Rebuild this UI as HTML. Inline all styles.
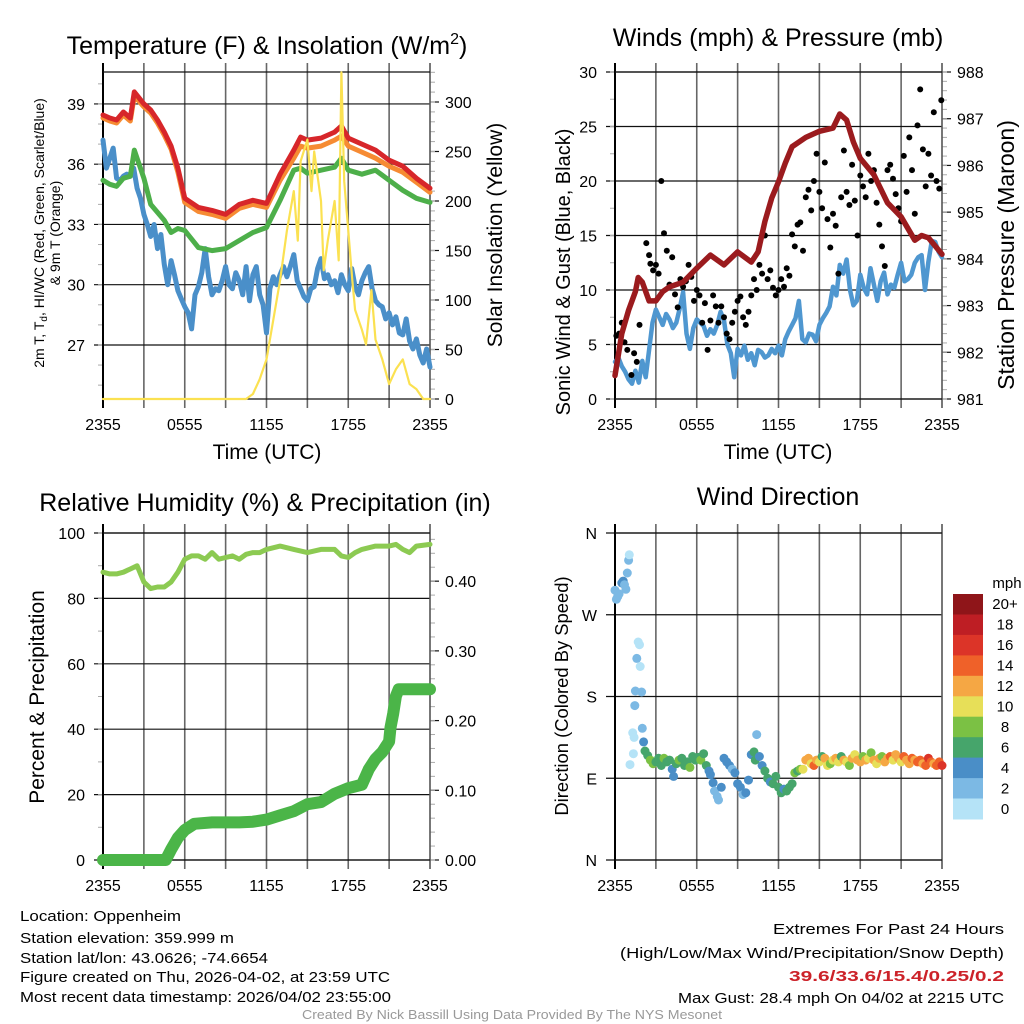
<!DOCTYPE html>
<html><head><meta charset="utf-8"><style>
html,body{margin:0;padding:0;background:#fff}
svg{display:block;font-family:"Liberation Sans",sans-serif}
</style></head><body>
<svg id="chart" width="1024" height="1024" viewBox="0 0 1024 1024" xmlns="http://www.w3.org/2000/svg">
<rect width="1024" height="1024" fill="#fff"/>
<g id="layer"></g>
<g font-size="25" text-anchor="middle" fill="#000">
<text x="267" y="54">Temperature (F) &amp; Insolation (W/m<tspan font-size="16" dy="-10">2</tspan><tspan dy="10">)</tspan></text>
<text x="778" y="46">Winds (mph) &amp; Pressure (mb)</text>
<text x="265" y="511">Relative Humidity (%) &amp; Precipitation (in)</text>
<text x="778" y="505">Wind Direction</text>
</g>
<g fill="#000" text-anchor="middle">
<text x="267" y="459" font-size="21">Time (UTC)</text>
<text x="778" y="459" font-size="21">Time (UTC)</text>
<text font-size="14" transform="translate(44,233) rotate(-90)">2m T, T<tspan font-size="10" dy="3">d</tspan><tspan dy="-3">, HI/WC (Red, Green, Scarlet/Blue)</tspan></text>
<text font-size="14" transform="translate(60,233) rotate(-90)">&amp; 9m T (Orange)</text>
<text font-size="21" transform="translate(502,235) rotate(-90)">Solar Insolation (Yellow)</text>
<text font-size="20" transform="translate(570,272) rotate(-90)">Sonic Wind &amp; Gust (Blue, Black)</text>
<text font-size="23" transform="translate(1014,255) rotate(-90)">Station Pressure (Maroon)</text>
<text font-size="21" transform="translate(44,697) rotate(-90)">Percent &amp; Precipitation</text>
<text font-size="18.4" transform="translate(568,696) rotate(-90)">Direction (Colored By Speed)</text>
</g>
<g font-size="15" fill="#000">
<text x="20" y="921" textLength="161" lengthAdjust="spacingAndGlyphs">Location: Oppenheim</text>
<text x="20" y="943" textLength="214" lengthAdjust="spacingAndGlyphs">Station elevation: 359.999 m</text>
<text x="20" y="963" textLength="248" lengthAdjust="spacingAndGlyphs">Station lat/lon: 43.0626; -74.6654</text>
<text x="20" y="982" textLength="370" lengthAdjust="spacingAndGlyphs">Figure created on Thu, 2026-04-02, at 23:59 UTC</text>
<text x="20" y="1002" textLength="371" lengthAdjust="spacingAndGlyphs">Most recent data timestamp: 2026/04/02 23:55:00</text>
</g>
<g font-size="15" fill="#000">
<text x="773" y="934" textLength="231" lengthAdjust="spacingAndGlyphs">Extremes For Past 24 Hours</text>
<text x="620" y="958" textLength="384" lengthAdjust="spacingAndGlyphs">(High/Low/Max Wind/Precipitation/Snow Depth)</text>
<text x="789" y="981" fill="#cc2229" font-weight="bold" textLength="215" lengthAdjust="spacingAndGlyphs">39.6/33.6/15.4/0.25/0.2</text>
<text x="678" y="1003" textLength="326" lengthAdjust="spacingAndGlyphs">Max Gust: 28.4 mph On 04/02 at 2215 UTC</text>
</g>
<text x="302" y="1019" font-size="13" fill="#999" textLength="420" lengthAdjust="spacingAndGlyphs">Created By Nick Bassill Using Data Provided By The NYS Mesonet</text>
</svg>
<script>
const xTickLabels=["2355","0555","1155","1755","2355"];
const tempT=[0,0.5,1,1.5,2,2.3,3,3.5,4,4.5,5,5.5,6,7,8,9,10,11,12,13,14,14.5,15,16,17,17.5,18,19,20,21,22,23,24];
const redT=[38.45,38.3,38.2,38.6,38.3,39.6,39.0,38.7,38.2,37.6,36.9,35.8,34.3,33.85,33.7,33.5,34.0,34.2,34.05,35.5,36.7,37.35,37.2,37.3,37.6,37.9,37.3,37.0,36.7,36.2,35.9,35.3,34.8];
const orangeT=[38.3,38.15,38.05,38.45,38.15,39.4,38.85,38.55,38.05,37.45,36.75,35.6,34.1,33.65,33.5,33.3,33.8,34.0,33.85,35.2,36.3,36.9,36.8,36.9,37.2,37.4,36.9,36.6,36.3,35.9,35.6,35.1,34.6];
const greenT=[35.2,35.0,34.9,35.3,35.4,36.7,35.3,34.0,33.6,33.2,32.6,32.8,32.7,31.85,31.7,31.8,32.2,32.6,32.85,34.2,35.7,35.8,35.55,35.7,35.85,36.3,35.7,35.5,35.7,35.2,34.7,34.3,34.1];
const dewT=[37.2,35.8,36.3,36.8,35.3,35.2,35.4,35.5,35.4,35.8,34.8,34.3,33.5,33.0,32.4,33.0,31.8,32.5,31.0,30.0,31.2,30.5,29.7,29.3,28.9,28.6,27.8,29.5,29.9,30.6,31.8,30.4,29.5,29.8,29.7,30.2,30.9,30.0,29.8,30.6,30.2,29.5,30.9,29.2,30.5,30.9,29.5,29.0,27.6,29.8,30.4,30.0,30.5,30.9,30.4,30.9,31.5,30.2,29.8,29.4,29.2,29.8,29.9,30.8,31.3,30.3,30.5,30.0,30.2,29.6,30.5,30.0,29.7,30.8,29.9,29.5,30.2,30.6,30.9,29.8,29.2,29.0,28.9,28.3,28.6,28.0,28.4,27.6,27.5,28.3,27.2,26.8,27.3,26.5,26.1,26.8,25.9];
const solarT=[0,10.5,11,11.5,12,12.5,13,13.5,14,14.3,14.5,15,15.3,15.5,16,16.2,16.5,17,17.3,17.5,17.7,18,18.3,18.5,19,19.3,19.7,20,20.5,21,21.5,22,22.5,23,23.5,24];
const solarV=[0,0,5,20,40,80,120,170,210,160,240,262,210,250,200,130,160,200,140,330,220,170,120,90,70,55,110,60,40,15,30,40,15,10,0,0];
const windV=[3.4,3.8,3.0,2.5,1.8,1.4,2.6,1.5,3.5,2.0,4.5,7.0,8.2,7.5,6.8,7.8,7.3,6.5,7.0,8.3,9.8,6.0,4.6,6.5,7.3,7.0,6.7,5.8,6.4,6.0,6.8,8.0,7.2,5.0,4.2,2.0,4.6,4.0,4.9,3.6,4.2,3.1,4.5,4.3,3.8,4.0,4.6,4.2,4.9,4.0,5.5,6.2,6.8,7.4,9.0,5.5,5.2,6.0,5.9,5.3,6.8,7.4,7.9,8.5,10.3,9.5,12.3,11.5,12.8,10.0,8.6,9.0,11.4,10.2,9.6,12.0,10.5,9.0,10.8,11.6,9.6,10.5,10.2,11.4,12.5,10.8,11.0,11.4,12.5,13.0,13.2,10.0,12.6,14.5,14.4,13.5,13.0];
const gustT=[0.1,0.3,0.5,0.7,0.9,1.2,1.4,1.6,1.8,2.3,2.5,2.6,2.8,3.0,3.2,3.4,3.6,3.8,4.0,4.2,4.4,4.6,4.8,5.0,5.2,5.4,5.6,5.8,6.0,6.2,6.4,6.6,6.8,7.0,7.2,7.4,7.6,7.8,8.0,8.2,8.4,8.6,8.8,9.0,9.2,9.4,9.6,9.8,10.0,10.2,10.4,10.6,10.8,11.0,11.2,11.4,11.6,11.8,12.0,12.2,12.4,12.6,12.8,13.0,13.2,13.4,13.6,13.8,14.0,14.2,14.4,14.6,14.8,15.0,15.2,15.4,15.6,15.8,16.0,16.2,16.4,16.6,16.8,17.0,17.2,17.4,17.6,17.8,18.0,18.2,18.4,18.6,18.8,19.0,19.2,19.4,19.6,19.8,20.0,20.2,20.4,20.6,20.8,21.0,21.2,21.4,21.6,21.8,22.0,22.2,22.4,22.6,22.8,23.0,23.2,23.4,23.6,23.8,23.95];
const gustV=[5.8,6.0,7.0,5.2,4.5,2.2,4.2,3.4,6.8,14.3,13.2,12.4,11.8,12.3,11.5,20.0,15.2,13.6,10.5,13.0,9.6,8.4,11.0,10.3,10.8,12.3,11.2,9.0,10.0,9.5,7.0,8.8,4.5,7.2,9.5,8.5,7.0,8.5,7.5,6.0,5.5,7.0,8.0,9.0,9.4,7.5,6.8,8.0,9.5,11.0,10.0,12.3,11.5,15.0,11.0,11.8,10.2,9.5,10.0,11.0,10.3,12.0,11.3,15.1,14.0,16.0,16.2,13.6,18.5,19.2,17.3,20.0,22.5,19.0,17.5,21.7,16.5,13.9,17.0,15.9,11.5,18.5,22.8,19.0,17.8,21.5,18.2,15.0,20.5,19.5,18.5,22.5,20.0,21.0,18.0,16.0,14.0,12.2,21.0,21.5,20.2,18.8,17.5,16.3,22.3,19.0,24.0,21.0,17.0,25.1,28.4,22.9,19.5,22.5,20.5,26.3,20.0,19.3,27.4,26.0,21.2,22.6];
const presT=[0,0.5,1,1.5,1.7,2,2.5,3,3.5,4,5,6,7,8,9,10,10.5,11,11.5,12,12.5,13,14,15,16,16.5,17,17.5,18,19,20,21,22,22.5,23,24];
const presV=[981.5,982.4,982.9,983.3,983.6,983.5,983.1,983.1,983.3,983.4,983.5,983.8,984.08,983.87,984.15,983.93,984.15,984.8,985.3,985.65,986.05,986.4,986.6,986.73,986.8,987.1,986.97,986.5,986.15,985.8,985.2,984.9,984.4,984.5,984.45,984.1];
const rhT=[0,0.5,1,1.5,2,2.5,3,3.5,4,4.5,5,5.5,6,6.5,7,7.5,8,8.5,9,9.5,10,10.5,11,11.5,12,13,14,15,16,17,17.5,18,18.5,19,20,21,21.5,22,22.5,23,24];
const rhV=[88,87.5,87.5,88,89,90,85,83,83.5,83.5,85,88,92,93,93,92,94,92,92.5,93,92,93.5,94,94,95,96,95,94,95,95,93,92.5,94,95,96,96,96.5,95,94,96,96.5];
const prT=[0,4.6,5,5.5,6,6.7,8,10,11,12,13,14,15,16,17,18,19,19.5,20,20.5,21,21.1,21.3,21.5,21.7,22,24];
const prV=[0,0,0.015,0.032,0.043,0.052,0.054,0.054,0.055,0.058,0.064,0.07,0.08,0.083,0.095,0.103,0.108,0.13,0.145,0.155,0.17,0.19,0.21,0.235,0.245,0.245,0.245];
const dirT=[0,0.1,0.2,0.3,0.5,0.6,0.7,0.8,0.9,1.0,1.05,1.7,1.8,1.6,1.85,1.5,1.95,1.45,1.3,1.4,1.35,1.1,2.0,2.1,2.2,2.4,2.6,2.8,3.0,3.2,3.4,3.6,3.8,4.0,4.2,4.3,4.5,4.7,4.9,5.1,5.3,5.5,5.7,5.9,6.1,6.3,6.5,6.7,6.9,7.0,7.2,7.3,7.5,7.6,7.8,8.0,8.2,8.4,8.6,8.8,9.0,9.2,9.4,9.6,9.8,10.0,10.2,10.3,10.4,10.6,10.8,11.0,11.2,11.4,11.6,11.8,12.0,12.2,12.4,12.6,12.8,13.0,13.2,13.4,13.6,13.8,14.0,14.2,14.4,14.6,14.8,15.0,15.2,15.4,15.6,15.8,16.0,16.2,16.4,16.6,16.8,17.0,17.2,17.4,17.6,17.8,18.0,18.2,18.4,18.6,18.8,19.0,19.2,19.4,19.6,19.8,20.0,20.2,20.4,20.6,20.8,21.0,21.2,21.4,21.6,21.8,22.0,22.2,22.4,22.6,22.8,23.0,23.2,23.4,23.6,23.8,24.0];
const dirV=[297,287,290,293,305,307,303,298,316,330,336,240,237,222,213,186,185,170,140,135,117,105,145,130,120,115,110,106,108,112,104,112,108,110,100,92,106,110,112,104,108,102,114,110,113,110,117,104,98,94,85,76,70,66,80,112,108,104,100,96,84,80,72,74,88,116,119,110,138,114,104,98,90,86,84,92,80,74,78,76,80,84,96,98,100,100,110,112,106,104,110,108,114,112,104,106,110,112,108,114,110,108,104,112,116,110,108,114,110,112,118,110,106,112,114,108,112,114,110,116,112,108,114,110,106,112,110,108,110,106,104,112,108,106,104,108,104,106,104,108,106];
const dirS=[3,3,3,3,4,4,3,3,3,2,1,0,1,2,0,2,2,2,0,1,0,0,2,4,6,6,8,8,6,6,6,8,6,6,4,4,6,8,6,6,6,8,6,6,6,8,6,6,4,4,4,2,2,2,4,4,4,4,2,4,4,4,2,4,4,4,6,6,2,4,4,6,6,4,6,6,6,6,4,6,6,6,8,6,8,10,12,12,10,14,12,10,6,12,10,8,10,12,10,6,12,10,8,12,10,12,12,8,12,10,8,12,10,12,8,12,12,14,10,12,12,10,14,12,12,14,12,14,14,12,14,16,14,12,14,14,16,14,14,12,14];
const cbarLabels=["20+","18","16","14","12","10","8","6","4","2","0"];
const cbarColors=["#8f1519","#be1e24","#dc3428","#ef6129","#f5a744","#e7df58","#7bc144","#46a56b","#4a8ec7","#7cb9e4","#b5e3f7"];

const NS="http://www.w3.org/2000/svg";
const layer=document.getElementById('layer');
function mk(tag,attrs,parent){const e=document.createElementNS(NS,tag);for(const k in attrs)e.setAttribute(k,attrs[k]);(parent||layer).appendChild(e);return e;}
const P1={x0:103,x1:430,y0:72,y1:399},P2={x0:615,x1:942,y0:72,y1:399},P3={x0:103,x1:430,y0:533,y1:860},P4={x0:615,x1:942,y0:533,y1:860};
function sx(p,t){return p.x0+t/24*(p.x1-p.x0);}
function sy(p,v,lo,hi){return p.y1-(v-lo)/(hi-lo)*(p.y1-p.y0);}
const L1=[24.31,40.59],R1=[0,330.3],L2=[0,30],R2=[981,988],L3=[0,100],R3=[0,0.4691],L4=[0,360];

function frame(p,name,leftTicks,leftRange,leftLabels,leftMinor,rightTicks,rightRange,rightLabels,rightMinor){
  const g=mk('g',{});
  
  
  for(let h=3;h<24;h+=3){
    const x=sx(p,h);
    const ln=mk('line',{x1:x,x2:x,y1:p.y0-9,y2:p.y1+9,stroke:'#666','stroke-width':1.6},g);
    
    
  }
  leftTicks.forEach((v,i)=>{
    const y=sy(p,v,leftRange[0],leftRange[1]);
    const ln=mk('line',{x1:p.x0-9,x2:p.x1,y1:y,y2:y,stroke:'#111','stroke-width':1.2},g);
    
    
    const t=mk('text',{x:p.x0-18,y:y+6,'font-size':16,'text-anchor':'end'},g);
    
    
    t.textContent=leftLabels[i];
  });
  leftMinor.forEach(v=>{const y=sy(p,v,leftRange[0],leftRange[1]);mk('line',{x1:p.x0-5,x2:p.x0,y1:y,y2:y,stroke:'#aaa','stroke-width':1},g);});
  rightTicks.forEach((v,i)=>{
    const y=sy(p,v,rightRange[0],rightRange[1]);
    mk('line',{x1:p.x1,x2:p.x1+9,y1:y,y2:y,stroke:'#111','stroke-width':1.2},g);
    const t=mk('text',{x:p.x1+15,y:y+6,'font-size':16},g);
    
    
    t.textContent=rightLabels[i];
  });
  rightMinor.forEach(v=>{const y=sy(p,v,rightRange[0],rightRange[1]);mk('line',{x1:p.x1,x2:p.x1+5,y1:y,y2:y,stroke:'#aaa','stroke-width':1},g);});
  mk('line',{x1:p.x0,x2:p.x0,y1:p.y0-9,y2:p.y1+9,stroke:'#000','stroke-width':2},g);
  mk('line',{x1:p.x1,x2:p.x1,y1:p.y0-9,y2:p.y1+9,stroke:'#555','stroke-width':1.6},g);
  mk('line',{x1:p.x0,x2:p.x1,y1:p.y0,y2:p.y0,stroke:'#111','stroke-width':1.2},g);
  mk('line',{x1:p.x0,x2:p.x1,y1:p.y1,y2:p.y1,stroke:'#111','stroke-width':1.2},g);
  xTickLabels.forEach((s,i)=>{
    const t=mk('text',{x:sx(p,i*6),y:p.y1+31,'font-size':16,'text-anchor':'middle'},g);
    
    
    t.textContent=s;
  });
}
function range(a,b,s){const r=[];for(let v=a;v<=b+1e-9;v+=s)r.push(+v.toFixed(4));return r;}
function line(p,ts,vs,rng,color,w,name){
  const pts=vs.map((v,i)=>sx(p,ts?ts[i]:i*24/(vs.length-1)).toFixed(1)+','+sy(p,v,rng[0],rng[1]).toFixed(1)).join(' ');
  const e=mk('polyline',{points:pts,fill:'none',stroke:color,'stroke-width':w,'stroke-linejoin':'round','stroke-linecap':'round'});
  
  
  return e;
}
frame(P1,'temp',[27,30,33,36,39],L1,["27","30","33","36","39"],range(25,40,1),[0,50,100,150,200,250,300],R1,["0","50","100","150","200","250","300"],range(0,330,10));
line(P1,null,dewT,L1,'#4a8fc9',5,'dewpoint-line');
line(P1,tempT,greenT,L1,'#4daf4a',5,'heat-index-line');
line(P1,tempT,orangeT,L1,'#f68b33',5,'temp-9m-line');
line(P1,tempT,redT,L1,'#d7262a',5,'temp-2m-line');
line(P1,solarT,solarV,R1,'#fbe151',2.2,'solar-line');
frame(P2,'wind',[0,5,10,15,20,25,30],L2,["0","5","10","15","20","25","30"],range(0,30,2.5),[981,982,983,984,985,986,987,988],R2,["981","982","983","984","985","986","987","988"],range(981,988,0.2));
line(P2,null,windV,L2,'#4f97d0',4.5,'wind-speed-line');
gustT.forEach((t,i)=>{
  const c=mk('circle',{cx:sx(P2,t).toFixed(1),cy:sy(P2,gustV[i],0,30).toFixed(1),r:3,fill:'#000'});
  
  
});
line(P2,presT,presV,R2,'#9b1b1e',5.5,'pressure-line');
frame(P3,'rh',[0,20,40,60,80,100],L3,["0","20","40","60","80","100"],range(0,100,10),[0,0.1,0.2,0.3,0.4],R3,["0.00","0.10","0.20","0.30","0.40"],range(0,0.46,0.02));
line(P3,rhT,rhV,L3,'#8cca52',5,'rh-line');
line(P3,prT,prV,R3,'#4bb548',12,'precip-line');
frame(P4,'dir',[0,90,180,270,360],L4,["N","E","S","W","N"],[],[],[0,1],[],[]);
dirT.forEach((t,i)=>{
  const s=dirS[i];const idx=Math.max(0,Math.min(10,10-Math.floor(s/2)));
  const c=mk('circle',{cx:sx(P4,t).toFixed(1),cy:sy(P4,dirV[i],0,360).toFixed(1),r:4.5,fill:cbarColors[idx]});
  
  
});
const cb=mk('g',{});


const cbH=(819-594)/11;
cbarColors.forEach((c,i)=>{
  const r=mk('rect',{x:953,y:(594+i*cbH).toFixed(1),width:30,height:(cbH+0.5).toFixed(1),fill:c},cb);
  
  
  const t=mk('text',{x:1005,y:(594+i*cbH+cbH/2+5).toFixed(1),'font-size':15,'text-anchor':'middle'},cb);
  
  
  t.textContent=cbarLabels[i];
});
const mph=mk('text',{x:1007,y:588,'font-size':15,'text-anchor':'middle'},cb);


mph.textContent='mph';
</script>
</body></html>
